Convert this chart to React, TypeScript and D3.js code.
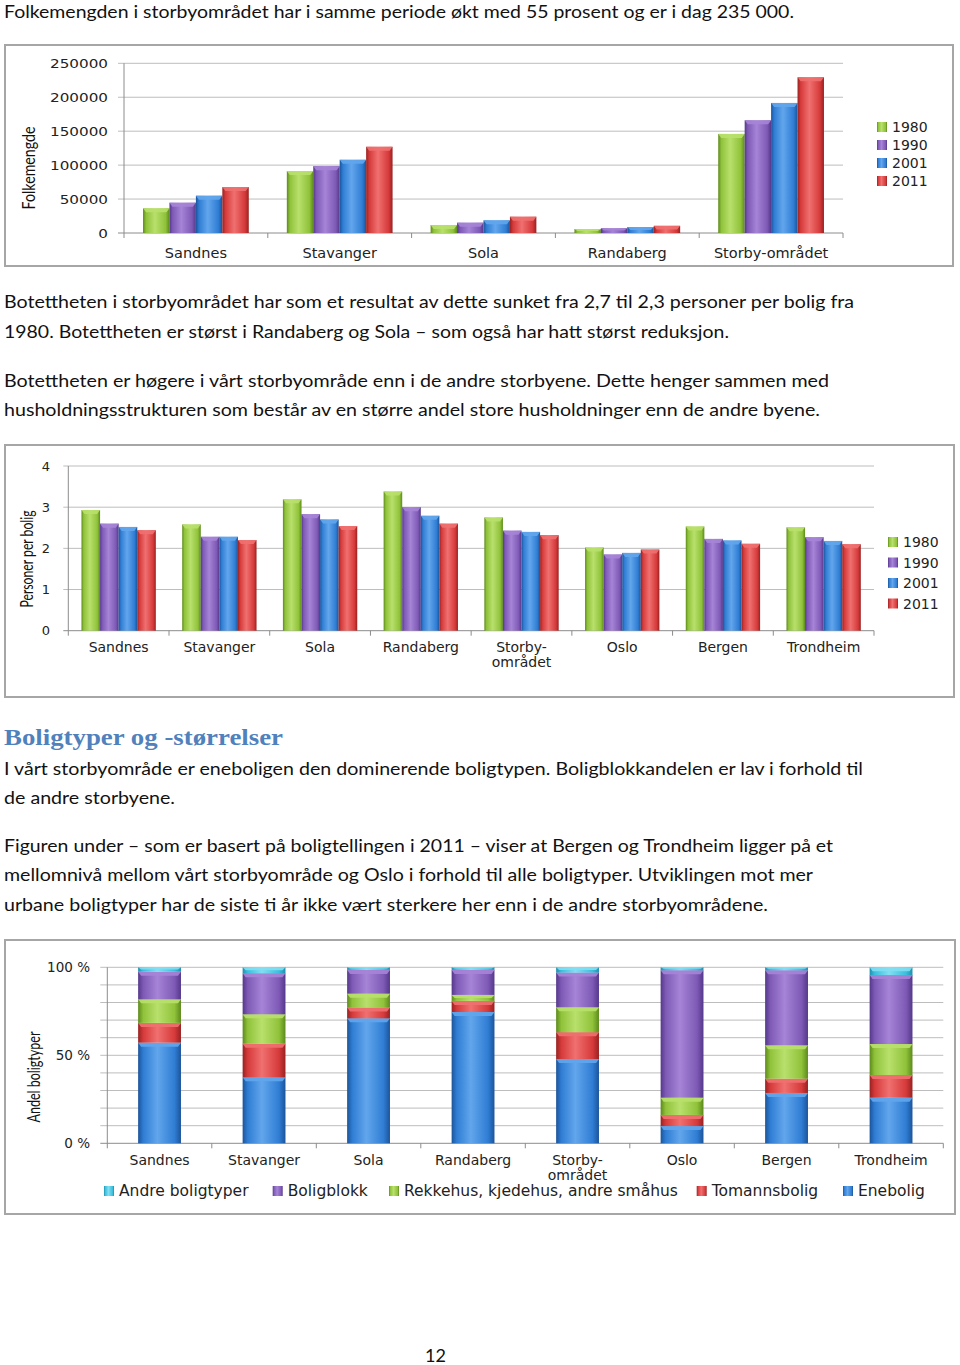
import React from "react";
import * as d3 from "d3";

// ---------- DATA ----------
const years = ["1980", "1990", "2001", "2011"];

const popCats = ["Sandnes", "Stavanger", "Sola", "Randaberg", "Storby-området"];
const pop1980 = [36300, 91200, 11800, 5800, 146000];
const pop1990 = [44600, 98500, 15200, 7000, 166000];
const pop2001 = [54900, 107800, 18600, 8800, 191600];
const pop2011 = [67600, 127000, 24000, 10500, 229400];
const popTicks = [0, 50000, 100000, 150000, 200000, 250000];

const densCats = ["Sandnes", "Stavanger", "Sola", "Randaberg", "Storby-\nområdet", "Oslo", "Bergen", "Trondheim"];
const dens1980 = [2.93, 2.58, 3.19, 3.38, 2.75, 2.02, 2.53, 2.51];
const dens1990 = [2.6, 2.28, 2.83, 3.0, 2.43, 1.85, 2.23, 2.27];
const dens2001 = [2.52, 2.28, 2.7, 2.79, 2.4, 1.89, 2.19, 2.18];
const dens2011 = [2.44, 2.2, 2.54, 2.6, 2.32, 1.97, 2.11, 2.1];
const densTicks = [0, 1, 2, 3, 4];

const typeCats = ["Sandnes", "Stavanger", "Sola", "Randaberg", "Storby-\nområdet", "Oslo", "Bergen", "Trondheim"];
const typeEnebolig = [57.2, 37.5, 71.0, 74.6, 47.9, 9.8, 28.6, 25.9];
const typeTomann = [11.2, 19.1, 6.1, 6.3, 15.2, 6.3, 8.1, 12.9];
const typeRekkehus = [13.4, 16.7, 7.9, 3.4, 14.2, 9.8, 19.0, 17.6];
const typeBlokk = [15.7, 23.3, 13.5, 14.2, 19.7, 72.4, 42.6, 39.2];
const typeAndre = [2.5, 3.4, 1.5, 1.5, 3.0, 1.7, 1.7, 4.4];
const typeNames = ["Enebolig", "Tomannsbolig", "Rekkehus, kjedehus, andre småhus", "Boligblokk", "Andre boligtyper"];
const typeLegendOrder = ["Andre boligtyper", "Boligblokk", "Rekkehus, kjedehus, andre småhus", "Tomannsbolig", "Enebolig"];

// ---------- STYLE ----------
const COLORS: Record<string, { dark: string; base: string; light: string }> = {
  green: { dark: "#5d8a1c", base: "#90c23a", light: "#b8e06c" },
  purple: { dark: "#54388a", base: "#7e5ab6", light: "#a684d6" },
  blue: { dark: "#1c5499", base: "#2f7dd4", light: "#62a6ec" },
  red: { dark: "#982222", base: "#d63a3a", light: "#f07070" },
  cyan: { dark: "#1f8fae", base: "#3bbfdd", light: "#82def2" },
};
const yearColors = ["green", "purple", "blue", "red"];
const typeColors = ["blue", "red", "green", "purple", "cyan"];

const BODY = "Lato, 'Open Sans', sans-serif";
const CH = "'DejaVu Sans', Verdana, sans-serif";

function Bar({ x, y, w, h, c }: { x: number; y: number; w: number; h: number; c: string }) {
  const col = COLORS[c];
  const b = Math.min(4, h / 2);
  return (
    <g>
      <rect x={x} y={y} width={w} height={Math.max(0, h)} fill={`url(#grad-${c})`} />
      <polygon
        points={`${x},${y} ${x + w},${y} ${x + w - 3},${y + b} ${x + 3},${y + b}`}
        fill={col.light}
        opacity={0.9}
      />
    </g>
  );
}

function BodyLine({ x, y, text, len }: { x: number; y: number; text: string; len: number }) {
  return (
    <text x={x} y={y} fontFamily={BODY} fontSize={18} fill="#111" textLength={len} lengthAdjust="spacingAndGlyphs">
      {text}
    </text>
  );
}

function Frame({ x0, y0, x1, y1 }: { x0: number; y0: number; x1: number; y1: number }) {
  return <rect x={x0} y={y0} width={x1 - x0} height={y1 - y0} fill="#fff" stroke="#a6a6a6" strokeWidth={2} />;
}

function YTitle({ cx, cy, text, len }: { cx: number; cy: number; text: string; len: number }) {
  return (
    <text
      transform={`translate(${cx},${cy}) rotate(-90)`}
      textAnchor="middle"
      dominantBaseline="central"
      fontFamily={BODY}
      fontSize={17}
      fill="#111"
      textLength={len}
      lengthAdjust="spacingAndGlyphs"
    >
      {text}
    </text>
  );
}

function CatLabel({ x, y, text, size }: { x: number; y: number; text: string; size: number }) {
  const lines = text.split("\n");
  return (
    <text x={x} y={y} textAnchor="middle" fontFamily={CH} fontSize={size} fill="#222">
      {lines.map((l, i) => (
        <tspan key={i} x={x} dy={i === 0 ? 0 : 15}>
          {l}
        </tspan>
      ))}
    </text>
  );
}

function PopChart() {
  const series = [pop1980, pop1990, pop2001, pop2011];
  const x = d3.scaleBand<string>().domain(popCats).range([124, 843]).padding(0);
  const xi = d3.scaleBand<string>().domain(years).range([0, x.bandwidth()]).paddingInner(0).paddingOuter(0.72);
  const y = d3.scaleLinear().domain([0, 250000]).range([233, 63.3]);
  const [r0, r1] = x.range();
  return (
    <g>
      <Frame x0={5} y0={45} x1={953} y1={266} />
      {popTicks.map((t) => (
        <g key={t}>
          <line x1={r0 - 6} x2={r1} y1={y(t)} y2={y(t)} stroke={t === 0 ? "#8c8c8c" : "#bdbdbd"} strokeWidth={1} />
          <text x={108 - 58 * (String(t).length / 6)} y={y(t) + 5} fontFamily={CH} fontSize={13} fill="#222"
            textLength={58 * (String(t).length / 6)} lengthAdjust="spacingAndGlyphs">
            {t}
          </text>
        </g>
      ))}
      <line x1={r0} x2={r0} y1={y(250000)} y2={y(0)} stroke="#8c8c8c" />
      {[...popCats.map((c) => x(c)!), r1].map((v, i) => (
        <line key={i} x1={v} x2={v} y1={y(0)} y2={y(0) + 5} stroke="#8c8c8c" />
      ))}
      {popCats.map((c, ci) =>
        years.map((yr, si) => {
          const v = series[si][ci];
          const bx = x(c)! + xi(yr)!;
          return <Bar key={c + yr} x={bx} y={y(v)} w={xi.bandwidth()} h={y(0) - y(v)} c={yearColors[si]} />;
        })
      )}
      {popCats.map((c) => (
        <CatLabel key={c} x={x(c)! + x.bandwidth() / 2} y={258} text={c} size={14.5} />
      ))}
      <YTitle cx={28} cy={168} text="Folkemengde" len={83} />
      {years.map((yr, i) => (
        <g key={yr}>
          <rect x={877} y={122 + i * 18} width={10} height={10} fill={`url(#grad-${yearColors[i]})`} />
          <text x={892} y={132 + i * 18} fontFamily={CH} fontSize={14} fill="#222">
            {yr}
          </text>
        </g>
      ))}
    </g>
  );
}

function DensChart() {
  const series = [dens1980, dens1990, dens2001, dens2011];
  const x = d3.scaleBand<string>().domain(densCats).range([68.3, 874]).padding(0);
  const xi = d3.scaleBand<string>().domain(years).range([0, x.bandwidth()]).paddingInner(0).paddingOuter(0.71);
  const y = d3.scaleLinear().domain([0, 4]).range([630.7, 466]);
  const [r0, r1] = x.range();
  return (
    <g>
      <Frame x0={5} y0={445} x1={954} y1={697} />
      {densTicks.map((t) => (
        <g key={t}>
          <line x1={r0 - 5} x2={r1} y1={y(t)} y2={y(t)} stroke={t === 0 ? "#8c8c8c" : "#bdbdbd"} />
          <text x={50} y={y(t) + 4.5} textAnchor="end" fontFamily={CH} fontSize={13} fill="#222">
            {t}
          </text>
        </g>
      ))}
      <line x1={r0} x2={r0} y1={y(4)} y2={y(0)} stroke="#8c8c8c" />
      {[...densCats.map((c) => x(c)!), r1].map((v, i) => (
        <line key={i} x1={v} x2={v} y1={y(0)} y2={y(0) + 5} stroke="#8c8c8c" />
      ))}
      {densCats.map((c, ci) =>
        years.map((yr, si) => {
          const v = series[si][ci];
          return (
            <Bar key={c + yr} x={x(c)! + xi(yr)!} y={y(v)} w={xi.bandwidth()} h={y(0) - y(v)} c={yearColors[si]} />
          );
        })
      )}
      {densCats.map((c) => (
        <CatLabel key={c} x={x(c)! + x.bandwidth() / 2} y={652} text={c} size={14} />
      ))}
      <YTitle cx={26} cy={559} text="Personer per bolig" len={97} />
      {years.map((yr, i) => (
        <g key={yr}>
          <rect x={888} y={537 + i * 20.5} width={10} height={10} fill={`url(#grad-${yearColors[i]})`} />
          <text x={903} y={547 + i * 20.5} fontFamily={CH} fontSize={14} fill="#222">
            {yr}
          </text>
        </g>
      ))}
    </g>
  );
}

function TypeChart() {
  const series = [typeEnebolig, typeTomann, typeRekkehus, typeBlokk, typeAndre];
  const x = d3.scaleBand<string>().domain(typeCats).range([107.3, 943.3]).paddingInner(0.59).paddingOuter(0.295);
  const y = d3.scaleLinear().domain([0, 100]).range([1143.3, 967.3]);
  const rows = typeCats.map((c, ci) => {
    const o: Record<string, number | string> = { cat: c };
    const total = series.reduce((s, arr) => s + arr[ci], 0);
    typeNames.forEach((n, si) => (o[n] = (series[si][ci] / total) * 100));
    return o;
  });
  const stack = d3.stack<Record<string, number | string>>().keys(typeNames)(rows);
  const r0 = 107.3,
    r1 = 943.3;
  const step = x.step();
  const grid = d3.range(0, 101, 10);
  const legendX = [104, 272.7, 389, 696.7, 843];
  return (
    <g>
      <Frame x0={5} y0={940} x1={955} y1={1214} />
      {grid.map((t) => (
        <line key={t} x1={r0 - 7} x2={r1} y1={y(t)} y2={y(t)} stroke={t === 0 ? "#8c8c8c" : "#bdbdbd"} />
      ))}
      {[0, 50, 100].map((t) => (
        <text key={t} x={90} y={y(t) + 5} textAnchor="end" fontFamily={CH} fontSize={13.5} fill="#222">
          {t} %
        </text>
      ))}
      <line x1={r0} x2={r0} y1={y(100)} y2={y(0)} stroke="#8c8c8c" />
      {d3.range(0, typeCats.length + 1).map((i) => (
        <line key={i} x1={r0 + i * step} x2={r0 + i * step} y1={y(0)} y2={y(0) + 5} stroke="#8c8c8c" />
      ))}
      {stack.map((s, si) =>
        s.map((d, ci) => (
          <Bar
            key={si + "-" + ci}
            x={x(typeCats[ci])!}
            y={y(d[1])}
            w={x.bandwidth()}
            h={y(d[0]) - y(d[1])}
            c={typeColors[si]}
          />
        ))
      )}
      {typeCats.map((c) => (
        <CatLabel key={c} x={x(c)! + x.bandwidth() / 2} y={1165} text={c} size={14} />
      ))}
      <YTitle cx={33} cy={1077} text="Andel boligtyper" len={91} />
      {typeLegendOrder.map((n, i) => {
        const si = typeNames.indexOf(n);
        return (
          <g key={n}>
            <rect x={legendX[i]} y={1186} width={10} height={10} fill={`url(#grad-${typeColors[si]})`} />
            <text x={legendX[i] + 15} y={1196} fontFamily={CH} fontSize={15.5} fill="#222">
              {n}
            </text>
          </g>
        );
      })}
    </g>
  );
}

export default function App() {
  return (
    <svg
      width={960}
      height={1365}
      viewBox="0 0 960 1365"
      style={{ position: "absolute", left: 0, top: 0, background: "#fff" }}
    >
      <defs>
        {Object.entries(COLORS).map(([k, c]) => (
          <linearGradient key={k} id={`grad-${k}`} x1="0" x2="1" y1="0" y2="0">
            <stop offset="0" stopColor={c.dark} />
            <stop offset="0.12" stopColor={c.base} />
            <stop offset="0.45" stopColor={c.light} />
            <stop offset="0.85" stopColor={c.base} />
            <stop offset="1" stopColor={c.dark} />
          </linearGradient>
        ))}
      </defs>
      <rect x={0} y={0} width={960} height={1365} fill="#fff" />
      <BodyLine x={4} y={18} len={790} text="Folkemengden i storbyområdet har i samme periode økt med 55 prosent og er i dag 235 000." />
      <PopChart />
      <BodyLine x={4} y={308} len={850} text="Botettheten i storbyområdet har som et resultat av dette sunket fra 2,7 til 2,3 personer per bolig fra" />
      <BodyLine x={4} y={338} len={725} text="1980. Botettheten er størst i Randaberg og Sola – som også har hatt størst reduksjon." />
      <BodyLine x={4} y={387} len={825} text="Botettheten er høgere i vårt storbyområde enn i de andre storbyene. Dette henger sammen med" />
      <BodyLine x={4} y={416} len={816} text="husholdningsstrukturen som består av en større andel store husholdninger enn de andre byene." />
      <DensChart />
      <text x={4} y={745} fontFamily="'Liberation Serif', 'DejaVu Serif', serif" fontWeight="bold" fontSize={24}
        fill="#4f81bd" textLength={279} lengthAdjust="spacingAndGlyphs">
        Boligtyper og -størrelser
      </text>
      <BodyLine x={4} y={775} len={859} text="I vårt storbyområde er eneboligen den dominerende boligtypen. Boligblokkandelen er lav i forhold til" />
      <BodyLine x={4} y={804} len={171} text="de andre storbyene." />
      <BodyLine x={4} y={852} len={829} text="Figuren under – som er basert på boligtellingen i 2011 – viser at Bergen og Trondheim ligger på et" />
      <BodyLine x={4} y={881} len={809} text="mellomnivå mellom vårt storbyområde og Oslo i forhold til alle boligtyper. Utviklingen mot mer" />
      <BodyLine x={4} y={911} len={764} text="urbane boligtyper har de siste ti år ikke vært sterkere her enn i de andre storbyområdene." />
      <TypeChart />
      <text x={425} y={1362} fontFamily={BODY} fontSize={18} fill="#111">
        12
      </text>
    </svg>
  );
}
